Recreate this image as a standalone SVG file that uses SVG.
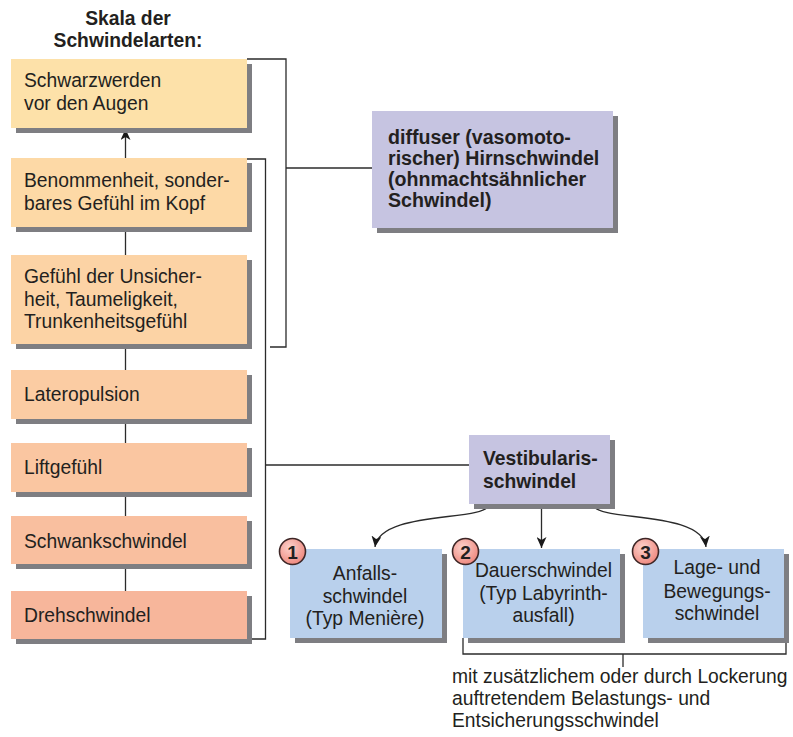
<svg xmlns="http://www.w3.org/2000/svg" width="793" height="737" viewBox="0 0 793 737">
<defs>
<style>
text{font-family:"Liberation Sans",Arial,sans-serif;fill:#231f20;font-size:19.3px}
.b{font-weight:bold}
.hb{font-size:19.6px}
.m{text-anchor:middle}
.sh{fill:#7e7e82}
.ln{fill:none;stroke:#2b2b2b;stroke-width:1.3}
.pu{fill:#c6c4e1}
.bl{fill:#b9d0ec}
.badge{fill:url(#rg);stroke:#3d2626;stroke-width:1.6}
.num{font-weight:bold;font-size:19px;text-anchor:middle}
</style>
<radialGradient id="rg" cx="0.4" cy="0.35" r="0.7">
<stop offset="0" stop-color="#fcd2cc"/>
<stop offset="1" stop-color="#ee857b"/>
</radialGradient>
<marker id="ah" viewBox="0 0 11 10" refX="11" refY="5" markerWidth="11" markerHeight="10" markerUnits="userSpaceOnUse" orient="auto">
<path d="M0,0 L11,5 L0,10 L3,5 Z" fill="#1a1a1a"/>
</marker>
</defs>

<g id="title">
<text class="b m" x="128" y="25">Skala der</text>
<text class="b m" x="128" y="47">Schwindelarten:</text>
</g>

<g id="connectors">
<line class="ln" x1="125.5" y1="158" x2="125.5" y2="129" marker-end="url(#ah)"/>
<line class="ln" x1="125.5" y1="227" x2="125.5" y2="255"/>
<line class="ln" x1="125.5" y1="344" x2="125.5" y2="370"/>
<line class="ln" x1="125.5" y1="419" x2="125.5" y2="443"/>
<line class="ln" x1="125.5" y1="492" x2="125.5" y2="516"/>
<line class="ln" x1="125.5" y1="564" x2="125.5" y2="591"/>
<polyline class="ln" points="247,59 286,59 286,347 270,347"/>
<line class="ln" x1="286" y1="168" x2="372" y2="168"/>
<polyline class="ln" points="247,159 265.5,159 265.5,639 247,639"/>
<line class="ln" x1="265.5" y1="465" x2="469" y2="465"/>
<path class="ln" d="M489,505 C484,522 380,510 375,547" marker-end="url(#ah)"/>
<line class="ln" x1="541.5" y1="505" x2="541.5" y2="548" marker-end="url(#ah)"/>
<path class="ln" d="M593,505 C598,522 702,510 706,547" marker-end="url(#ah)"/>
<polyline class="ln" points="463,638 463,654 786,654 786,638"/>
<line class="ln" x1="623" y1="654" x2="623" y2="667"/>
</g>

<g id="n1">
<rect class="sh" x="16" y="64" width="236" height="69"/>
<rect x="11" y="59" width="236" height="69" fill="#fde1a9"/>
<text x="24" y="87">Schwarzwerden</text>
<text x="24" y="110">vor den Augen</text>
</g>
<g id="n2">
<rect class="sh" x="16" y="163" width="236" height="69"/>
<rect x="11" y="158" width="236" height="69" fill="#fdd9a6"/>
<text x="24" y="187">Benommenheit, sonder-</text>
<text x="24" y="209.5">bares Gefühl im Kopf</text>
</g>
<g id="n3">
<rect class="sh" x="16" y="260" width="236" height="89"/>
<rect x="11" y="255" width="236" height="89" fill="#fcd3a5"/>
<text x="24" y="283">Gefühl der Unsicher-</text>
<text x="24" y="305.7">heit, Taumeligkeit,</text>
<text x="24" y="328.4">Trunkenheitsgefühl</text>
</g>
<g id="n4">
<rect class="sh" x="16" y="375" width="236" height="49"/>
<rect x="11" y="370" width="236" height="49" fill="#fbcca3"/>
<text x="24" y="401">Lateropulsion</text>
</g>
<g id="n5">
<rect class="sh" x="16" y="448" width="236" height="49"/>
<rect x="11" y="443" width="236" height="49" fill="#fac6a1"/>
<text x="24" y="474">Liftgefühl</text>
</g>
<g id="n6">
<rect class="sh" x="16" y="521" width="236" height="48"/>
<rect x="11" y="516" width="236" height="48" fill="#f9bf9f"/>
<text x="24" y="548">Schwankschwindel</text>
</g>
<g id="n7">
<rect class="sh" x="16" y="596" width="236" height="48"/>
<rect x="11" y="591" width="236" height="48" fill="#f7b69b"/>
<text x="24" y="622">Drehschwindel</text>
</g>

<g id="hirn">
<rect class="sh" x="377" y="116" width="241" height="117"/>
<rect class="pu" x="372" y="111" width="241" height="117"/>
<text class="b hb" x="388" y="144">diffuser (vasomoto-</text>
<text class="b hb" x="388" y="165">rischer) Hirnschwindel</text>
<text class="b hb" x="388" y="186">(ohnmachtsähnlicher</text>
<text class="b hb" x="388" y="207">Schwindel)</text>
</g>

<g id="vestib">
<rect class="sh" x="474" y="440" width="141" height="69"/>
<rect class="pu" x="469" y="435" width="141" height="69"/>
<text class="b" x="483" y="465">Vestibularis-</text>
<text class="b" x="483" y="488">schwindel</text>
</g>

<g id="anfall">
<rect class="sh" x="295" y="554" width="152" height="89"/>
<rect class="bl" x="290" y="549" width="152" height="89"/>
<text class="m" x="365" y="580">Anfalls-</text>
<text class="m" x="365" y="603">schwindel</text>
<text class="m" x="365" y="625">(Typ Menière)</text>
<circle class="badge" cx="292.5" cy="551.5" r="13"/>
<text class="num" x="292.5" y="558.5">1</text>
</g>

<g id="dauer">
<rect class="sh" x="468" y="554" width="157" height="89"/>
<rect class="bl" x="463" y="549" width="157" height="89"/>
<text class="m" x="543.5" y="577">Dauerschwindel</text>
<text class="m" x="543.5" y="600">(Typ Labyrinth-</text>
<text class="m" x="543.5" y="622">ausfall)</text>
<circle class="badge" cx="465.5" cy="551.5" r="13"/>
<text class="num" x="465.5" y="558.5">2</text>
</g>

<g id="lage">
<rect class="sh" x="648" y="554" width="141" height="89"/>
<rect class="bl" x="643" y="549" width="141" height="89"/>
<text class="m" x="717" y="574">Lage- und</text>
<text class="m" x="717" y="598">Bewegungs-</text>
<text class="m" x="717" y="620">schwindel</text>
<circle class="badge" cx="645.5" cy="551.5" r="13"/>
<text class="num" x="645.5" y="558.5">3</text>
</g>

<g id="note">
<text x="452" y="683">mit zusätzlichem oder durch Lockerung</text>
<text x="452" y="705">auftretendem Belastungs- und</text>
<text x="452" y="727">Entsicherungsschwindel</text>
</g>
</svg>
